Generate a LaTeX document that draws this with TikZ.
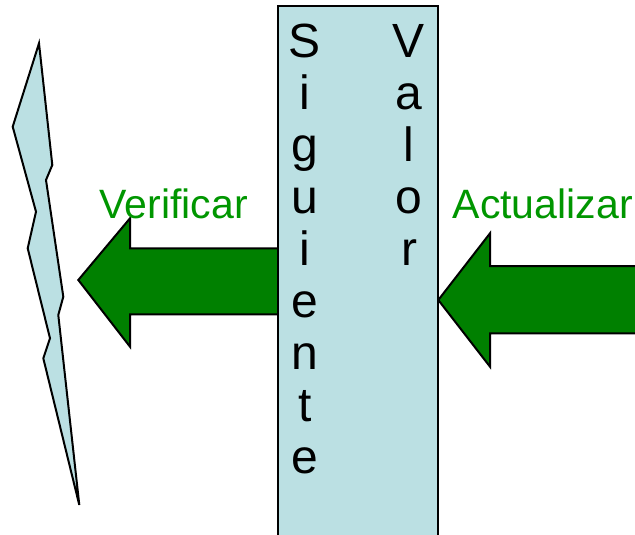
\documentclass[tikz,border=0pt]{standalone}
\usepackage{fontspec}
\setmainfont{Liberation Sans}
\definecolor{boxblue}{RGB}{187,224,227}
\definecolor{arrowgreen}{RGB}{0,128,0}
\definecolor{textgreen}{RGB}{0,150,0}
\begin{document}
\begin{tikzpicture}[x=1pt,y=-1pt,
  outline/.style={draw=black,line width=2pt,line join=miter},
  bigarrow/.style={outline,fill=arrowgreen},
  label/.style={text=textgreen,inner sep=0pt,anchor=base west,font=\fontsize{41}{48}\selectfont},
  column/.style={inner sep=0pt,anchor=base,align=center,font=\fontsize{48}{52}\selectfont}]
\useasboundingbox (0,0) rectangle (635,535);
% lightning bolt
\draw[outline,fill=boxblue] (39,43.3) -- (52.3,165) -- (46,180) -- (63.3,296.7) -- (58.3,315) -- (79.3,505)
  -- (43.3,358.3) -- (50,338.3) -- (27.7,248.3) -- (36,211.7) -- (12.7,126.7) -- cycle;
% arrows
\draw[bigarrow] (78.3,280) -- (130,218.3) -- (130,248.3) -- (285,248.3) -- (285,314.3) -- (130,314.3) -- (130,346.7) -- cycle;
\draw[bigarrow] (438.3,300) -- (490,233.3) -- (490,266) -- (650,266) -- (650,333.3) -- (490,333.3) -- (490,366.7) -- cycle;
% box
\draw[outline,fill=boxblue] (277.5,6) rectangle (437.5,550);
\node[column] (sig) at (305,473) {S\\i\\g\\u\\i\\e\\n\\t\\e};
\node[column] (val) at (409,265) {V\\a\\l\\o\\r};
\node[label] (ver) at (99.5,218.3) {Verificar};
\node[label] (act) at (452.5,218.3) {Actualizar};
\end{tikzpicture}
\end{document}
